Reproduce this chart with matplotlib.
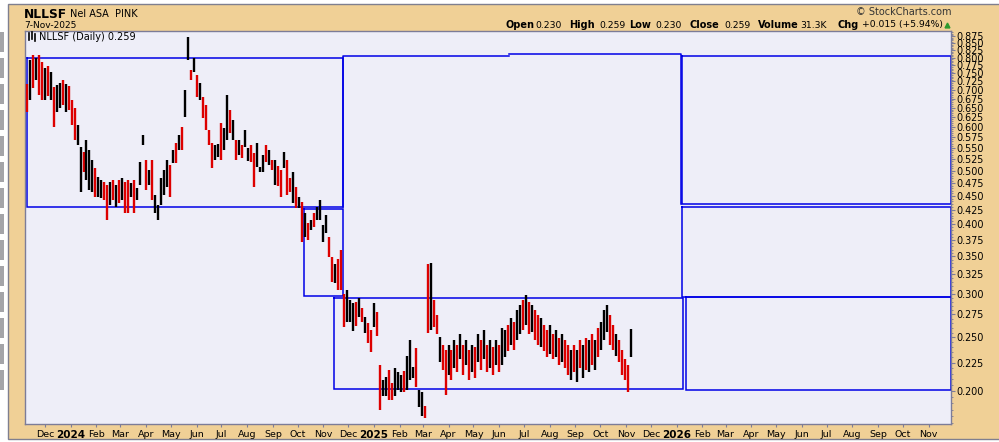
#!/usr/bin/env python3
"""
NLLSF daily bar chart with blue price boxes, StockCharts look.
"""

import datetime as dt
import numpy as np
import matplotlib
matplotlib.use("Agg")
import matplotlib.pyplot as plt
import matplotlib.dates as mdates
from matplotlib.patches import Rectangle
from matplotlib.lines import Line2D
from matplotlib.ticker import FixedLocator, FixedFormatter, NullFormatter

# daily-ish bars (Nov 2023 -> 7 Nov 2025)
first_bar = "2023-11-09"
last_bar = "2025-11-07"

bar_high = [
    0.717, 0.792, 0.808, 0.798, 0.808, 0.786, 0.766, 0.773, 0.754, 0.708,
    0.714, 0.720, 0.729, 0.717, 0.711, 0.671, 0.649, 0.604, 0.552, 0.541,
    0.568, 0.545, 0.523, 0.505, 0.487, 0.481, 0.477, 0.471, 0.477,
    0.481, 0.471, 0.481, 0.485, 0.477, 0.481, 0.475, 0.481, 0.465,
    0.519, 0.580, 0.523, 0.501, 0.523, 0.452, 0.433, 0.485, 0.501, 0.523,
    0.512, 0.545, 0.561, 0.580, 0.599, 0.699, 0.871, 0.760, 0.801, 0.744,
    0.720, 0.680, 0.657, 0.592, 0.561, 0.556, 0.560, 0.609, 0.597, 0.685, 0.643,
    0.617, 0.568, 0.568, 0.556, 0.592, 0.550, 0.556, 0.538, 0.561, 0.508, 0.534,
    0.556, 0.545, 0.523, 0.523, 0.510, 0.501, 0.541, 0.523, 0.485, 0.497, 0.467,
    0.448, 0.439, 0.419, 0.402, 0.407, 0.420, 0.430, 0.443, 0.399, 0.416, 0.380,
    0.349, 0.339, 0.347, 0.359, 0.300, 0.304, 0.292, 0.288, 0.290, 0.294, 0.283,
    0.272, 0.265, 0.258, 0.288, 0.278, 0.223, 0.209, 0.212, 0.218, 0.207,
    0.220, 0.216, 0.214, 0.217, 0.231, 0.247, 0.221, 0.239, 0.201, 0.199, 0.188,
    0.339, 0.341, 0.292, 0.274, 0.250, 0.242, 0.237, 0.242, 0.237, 0.247,
    0.242, 0.253, 0.242, 0.247, 0.237, 0.242, 0.240, 0.253, 0.247, 0.258,
    0.242, 0.247, 0.240, 0.247, 0.242, 0.260, 0.258, 0.263, 0.271, 0.267,
    0.280, 0.286, 0.292, 0.298, 0.290, 0.286, 0.280, 0.274, 0.271, 0.263,
    0.258, 0.263, 0.253, 0.258, 0.249, 0.253, 0.247, 0.242, 0.237, 0.242,
    0.237, 0.247, 0.242, 0.249, 0.247, 0.253, 0.247, 0.260, 0.267, 0.280,
    0.286, 0.274, 0.263, 0.253, 0.247, 0.237, 0.228, 0.223, 0.259,
]

bar_low = [
    0.638, 0.671, 0.705, 0.729, 0.685, 0.671, 0.671, 0.682, 0.671, 0.599,
    0.638, 0.649, 0.657, 0.638, 0.643, 0.604, 0.568, 0.556, 0.457, 0.497,
    0.481, 0.461, 0.457, 0.448, 0.448, 0.446, 0.443, 0.407, 0.433,
    0.443, 0.430, 0.437, 0.443, 0.420, 0.420, 0.448, 0.419, 0.443,
    0.471, 0.556, 0.461, 0.471, 0.443, 0.419, 0.407, 0.433, 0.452, 0.467,
    0.448, 0.516, 0.516, 0.545, 0.545, 0.625, 0.792, 0.729, 0.754, 0.680,
    0.671, 0.622, 0.592, 0.556, 0.505, 0.523, 0.530, 0.523, 0.545, 0.568, 0.585,
    0.568, 0.523, 0.534, 0.527, 0.552, 0.520, 0.519, 0.467, 0.508, 0.497, 0.497,
    0.519, 0.512, 0.501, 0.471, 0.470, 0.448, 0.505, 0.452, 0.457, 0.437, 0.428,
    0.428, 0.372, 0.380, 0.375, 0.391, 0.395, 0.407, 0.407, 0.372, 0.386, 0.349,
    0.315, 0.314, 0.304, 0.304, 0.261, 0.266, 0.266, 0.257, 0.262, 0.272, 0.267,
    0.255, 0.244, 0.235, 0.261, 0.251, 0.185, 0.196, 0.196, 0.193, 0.193,
    0.196, 0.201, 0.199, 0.199, 0.201, 0.209, 0.211, 0.203, 0.187, 0.180, 0.179,
    0.255, 0.258, 0.261, 0.253, 0.226, 0.218, 0.197, 0.214, 0.209, 0.220,
    0.216, 0.228, 0.214, 0.223, 0.209, 0.216, 0.211, 0.226, 0.218, 0.228,
    0.216, 0.220, 0.214, 0.223, 0.216, 0.223, 0.230, 0.236, 0.242, 0.237,
    0.247, 0.253, 0.258, 0.263, 0.253, 0.256, 0.247, 0.242, 0.240, 0.236,
    0.230, 0.233, 0.228, 0.230, 0.223, 0.226, 0.220, 0.214, 0.209, 0.216,
    0.208, 0.220, 0.211, 0.218, 0.216, 0.223, 0.218, 0.230, 0.237, 0.247,
    0.256, 0.242, 0.237, 0.231, 0.226, 0.214, 0.209, 0.199, 0.230,
]

# r = closed down (red), k = closed up (black)
bar_dir = ("rkrkrrkrkr" "kkrkrrrkkr" "kkkrkkrrk" "rkrkrrkrk" "kkrkrkkkkk"
           "rkrkrkkrkr" "krrrrkkrkkr" "krkrkkrrkkk" "rkrkrrkrrkr" "krkrkrkkkkr"
           "rkrrrkkkrkr" "krrkrrkkrr" "kkkrkkkrkkr" "rkrrkrrkrk" "rkrkrkrkrk"
           "rkrkrkkrkr" "kkrkrkrrkr" "rkrkrkrrkr" "krkrkrkrkk" "krrkrrrrk")

# blue boxes drawn on the chart
box_start = ["2023-11-09", "2024-10-08", "2024-11-14", "2026-01-07", "2026-01-08", "2026-01-12"]
box_end = ["2024-11-24", "2024-11-24", "2026-01-09", "2026-11-28", "2026-11-28", "2026-11-28"]
box_top = [0.800, 0.426, 0.294, 0.806, 0.430, 0.296]
box_bottom = [0.430, 0.297, 0.202, 0.436, 0.296, 0.201]
# open-bottom box from Nov 2024 to Jan 2026
open_box_dates = ["2024-11-24", "2025-06-13", "2026-01-06"]
open_box_tops = [0.806, 0.813]
open_box_bottoms = [0.430, 0.436]

y_ticks = [round(0.200 + 0.025 * i, 3) for i in range(28)]

header_items = [("Open", True), ("0.230", False), ("High", True), ("0.259", False),
                ("Low", True), ("0.230", False), ("Close", True), ("0.259", False),
                ("Volume", True), ("31.3K", False), ("Chg", True), ("+0.015 (+5.94%)", False)]
header_x = [505, 535, 569, 599, 629, 655, 690, 724, 758, 800, 838, 862]

W, H = 999, 442
BG = "#f0d096"
PLOT_BG = "#eeeef8"
SPINE = "#7c7c98"
BLUE = "#0000e6"


def fx(px):
    return px / W


def fy(py):
    return 1 - py / H


def d(s):
    return mdates.date2num(dt.datetime.strptime(s, "%Y-%m-%d"))


fig = plt.figure(figsize=(W / 100, H / 100), dpi=100)
fig.patch.set_facecolor("white")

# yellow frame and the grey strip of icons on the left
fig.add_artist(Rectangle((fx(8), fy(439)), 1.0, fy(4) - fy(439), transform=fig.transFigure,
                         facecolor=BG, edgecolor="#7f7f8f", lw=1.0, zorder=0))
for k in range(14):
    top = 32 + 26 * k
    fig.add_artist(Rectangle((0, fy(top + 20)), fx(4), 20 / H, transform=fig.transFigure,
                             facecolor="#a4a4a8", edgecolor="none", zorder=1))

ax = fig.add_axes([fx(25), fy(424), fx(951) - fx(25), (424 - 31) / H])
ax.set_facecolor(PLOT_BG)

# bars
n = len(bar_high)
assert n == len(bar_low) == len(bar_dir)
x_bars = np.linspace(d(first_bar), d(last_bar), n)
cols = ["#dd0000" if c == "r" else "black" for c in bar_dir]
ax.vlines(x_bars, bar_low, bar_high, colors=cols, linewidth=1.7, zorder=3)

# boxes
for s, e, t, b in zip(box_start, box_end, box_top, box_bottom):
    x0, x1 = d(s), d(e)
    ax.plot([x0, x1, x1, x0, x0], [t, t, b, b, t], color=BLUE, lw=1.1,
            zorder=2, clip_on=False, solid_joinstyle="miter")
ox = [d(s) for s in open_box_dates]
ax.plot([ox[0], ox[0], ox[1]], [open_box_bottoms[0], open_box_tops[0], open_box_tops[0]],
        color=BLUE, lw=1.1, zorder=2)
ax.plot([ox[1], ox[2], ox[2]], [open_box_tops[1], open_box_tops[1], open_box_bottoms[1]],
        color=BLUE, lw=1.1, zorder=2)

# axes
ax.set_yscale("log")
ax.set_ylim(0.1743, 0.8945)
ax.set_xlim(d("2023-11-07"), d("2026-11-28"))

ax.yaxis.tick_right()
ax.yaxis.set_major_locator(FixedLocator(y_ticks))
ax.yaxis.set_major_formatter(FixedFormatter([f"{v:.3f}" for v in y_ticks]))
ax.yaxis.set_minor_locator(FixedLocator([0.175 + 0.005 * i for i in range(145)]))
ax.yaxis.set_minor_formatter(NullFormatter())
ax.tick_params(axis="y", which="major", length=3, width=0.8, pad=1, labelsize=6.9,
               colors=SPINE, labelcolor="black")
ax.tick_params(axis="y", which="minor", length=1.5, width=0.6, colors=SPINE)

month_ticks = []
month_labels = []
y, m = 2023, 12
while (y, m) <= (2026, 11):
    month_ticks.append(mdates.date2num(dt.datetime(y, m, 1)))
    month_labels.append(str(y) if m == 1 else dt.date(y, m, 1).strftime("%b"))
    m += 1
    if m > 12:
        y, m = y + 1, 1
ax.xaxis.set_major_locator(FixedLocator(month_ticks))
ax.xaxis.set_major_formatter(FixedFormatter(month_labels))
ax.xaxis.set_minor_locator(FixedLocator([]))
ax.tick_params(axis="x", which="major", length=2, width=0.8, pad=2, labelsize=6.8,
               colors=SPINE, labelcolor="black")
for lab in ax.get_xticklabels():
    if lab.get_text().isdigit():
        lab.set_fontweight("bold")
        lab.set_fontsize(7.5)

for sp in ax.spines.values():
    sp.set_color(SPINE)
    sp.set_linewidth(1.0)

# titles and header
fig.text(fx(24), fy(14), "NLLSF", fontsize=8.8, fontweight="bold", va="center")
fig.text(fx(70), fy(14), "Nel ASA  PINK", fontsize=7, va="center")
fig.text(fx(24), fy(25), "7-Nov-2025", fontsize=6.5, va="center")
fig.text(fx(951), fy(12), "\u00a9 StockCharts.com", fontsize=7, ha="right", va="center",
         color="#333333")
for (txt, bold), px in zip(header_items, header_x):
    fig.text(fx(px), fy(25), txt, fontsize=7 if bold else 6.7,
             fontweight="bold" if bold else "normal", va="center")
fig.add_artist(Line2D([fx(947)], [fy(25)], marker="^", markersize=3.5, color="#2e9a2e",
                      transform=fig.transFigure))

# legend inside the plot
for px, top, bot in [(29, 33, 40), (32, 32, 39), (35, 34, 41)]:
    fig.add_artist(Line2D([fx(px), fx(px)], [fy(top), fy(bot)], color="black", lw=1.2,
                          transform=fig.transFigure))
fig.text(fx(39), fy(36.5), "NLLSF (Daily) 0.259", fontsize=7, va="center")

fig.savefig("out.png", dpi=100, facecolor=fig.get_facecolor())
